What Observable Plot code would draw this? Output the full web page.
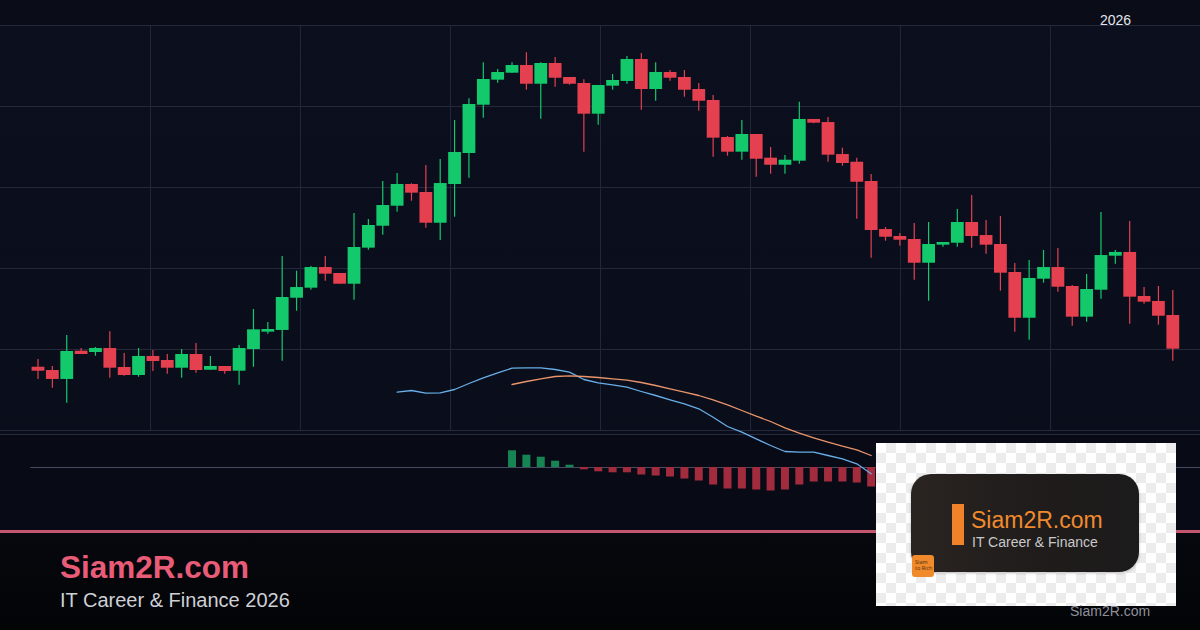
<!DOCTYPE html>
<html>
<head>
<meta charset="utf-8">
<script src="https://cdn.jsdelivr.net/npm/d3@7"></script>
<script src="https://cdn.jsdelivr.net/npm/@observablehq/plot@0.6"></script>
<style>
  html, body { margin: 0; padding: 0; background: #0b0f1d; }
  #wrap { position: relative; width: 1200px; height: 630px; overflow: hidden; font-family: "Liberation Sans", Arial, sans-serif; }
  .abs { position: absolute; }
  #hdr { left: 0; top: 0; width: 1200px; height: 25px; background: #0a0d17; }
  #pane { left: 0; top: 25px; width: 1200px; height: 410px; background: linear-gradient(180deg, #0b0f1e 0%, #0a0e1b 100%); }
  #sep { left: 0; top: 434px; width: 1200px; height: 1px; background: #262b3e; }
  #macdpane { left: 0; top: 435px; width: 1200px; height: 95px; background: #080b16; }
  #pink { left: 0; top: 530px; width: 1200px; height: 3px; background: #c4566f; }
  #foot { left: 0; top: 533px; width: 1200px; height: 97px; background: linear-gradient(180deg, #07080e 0%, #030406 100%); }
  #plotA { left: 0; top: 0; }
  #plotB { left: 0; top: 360px; }
  #yr { left: 1100px; top: 13px; font-size: 14px; line-height: 14px; color: #e4e6ee; }
  #t1 { left: 60px; top: 552px; font-size: 31.5px; line-height: 31.5px; font-weight: bold; color: #e85c78; }
  #t2 { left: 60px; top: 590px; font-size: 20px; line-height: 20px; color: #cfd0d6; }
  #t3 { left: 1070px; top: 604px; font-size: 14px; line-height: 14px; color: #8e909c; }
  #logo { left: 876px; top: 443px; width: 300px; height: 163px;
    background-color: #ffffff;
    background-image: linear-gradient(45deg, #ececec 25%, transparent 25%), linear-gradient(-45deg, #ececec 25%, transparent 25%), linear-gradient(45deg, transparent 75%, #ececec 75%), linear-gradient(-45deg, transparent 75%, #ececec 75%);
    background-size: 20px 20px; background-position: 0 0, 0 10px, 10px -10px, -10px 0; }
  #card { left: 35px; top: 31px; width: 228px; height: 98px; border-radius: 20px;
    background: linear-gradient(90deg, #2a2421 0%, #1f1c1b 55%, #1c1b1b 100%); box-shadow: 0 1px 3px rgba(0,0,0,0.25); }
  #bar { left: 41px; top: 30px; width: 12px; height: 41px; background: #f0822a; }
  #lt1 { left: 60px; top: 35px; font-family: "Liberation Sans", Arial, sans-serif; font-size: 23px; line-height: 23px; color: #f08a2e; white-space: nowrap; }
  #lt2 { left: 61px; top: 61.3px; font-family: "Liberation Sans", Arial, sans-serif; font-size: 14px; line-height: 14px; color: #c9c9c9; white-space: nowrap; }
  #badge { left: 1px; top: 81px; width: 22px; height: 22px; border-radius: 3px; background: #f08a2a; font-family: "Open Sans", sans-serif; font-size: 5.5px; line-height: 6px; color: #4a2a12; padding: 4px 0 0 3px; box-sizing: border-box; }
</style>
</head>
<body>
<div id="wrap">
  <div id="hdr" class="abs"></div>
  <div id="pane" class="abs"></div>
  <div id="macdpane" class="abs"></div>
  <div id="sep" class="abs"></div>
  <div id="pink" class="abs"></div>
  <div id="foot" class="abs"></div>
  <div id="plotA" class="abs"></div>
  <div id="plotB" class="abs"></div>
  <div id="yr" class="abs">2026</div>
  <div id="t1" class="abs">Siam2R.com</div>
  <div id="t2" class="abs">IT Career &amp; Finance 2026</div>
  <div id="logo" class="abs">
    <div id="card" class="abs">
      <div id="bar" class="abs"></div>
      <div id="lt1" class="abs">Siam2R.com</div>
      <div id="lt2" class="abs">IT Career &amp; Finance</div>
      <div id="badge" class="abs">Siam<br>to Rich</div>
    </div>
  </div>
  <div id="t3" class="abs">Siam2R.com</div>
</div>
<script>
// ---- Price data (OHLC), 80 sessions ----
const open = [97.81, 97.41, 96.30, 99.79, 99.63, 100.12, 97.78, 96.79, 99.14, 98.64,
  97.69, 99.38, 97.44, 97.90, 97.32, 100.00, 102.14, 102.35, 106.33, 107.57,
  110.12, 109.38, 108.06, 112.51, 115.22, 117.69, 120.37, 119.38, 115.59, 120.37,
  124.20, 130.16, 133.25, 134.11, 135.06, 132.75, 135.31, 133.58, 132.84, 129.05,
  132.51, 133.09, 135.80, 132.10, 134.20, 133.58, 132.10, 130.74, 126.17, 124.36,
  126.54, 123.62, 122.75, 123.25, 128.40, 128.02, 124.07, 123.12, 120.74, 114.81,
  113.95, 113.58, 110.65, 112.88, 113.12, 115.68, 114.07, 112.96, 109.51, 103.86,
  108.68, 110.12, 107.78, 103.99, 107.32, 111.52, 111.98, 106.54, 105.93, 104.20];
const close = [97.32, 96.30, 99.75, 99.38, 100.12, 97.69, 96.79, 99.14, 98.52, 97.69,
  99.38, 97.41, 97.90, 97.28, 100.12, 102.43, 102.47, 106.42, 107.65, 110.12,
  109.30, 108.06, 112.59, 115.31, 117.78, 120.37, 119.30, 115.59, 120.49, 124.32,
  130.25, 133.33, 134.20, 135.06, 132.75, 135.31, 133.49, 132.75, 129.05, 132.59,
  133.21, 135.80, 132.10, 134.20, 133.49, 132.01, 130.65, 126.09, 124.36, 126.54,
  123.49, 122.75, 123.37, 128.40, 127.94, 123.99, 122.96, 120.65, 114.69, 113.86,
  113.49, 110.65, 112.96, 113.21, 115.68, 113.95, 112.88, 109.42, 103.86, 108.77,
  110.12, 107.69, 103.99, 107.41, 111.60, 111.98, 106.46, 105.84, 104.11, 100.04];
const high = [98.77, 97.90, 101.73, 100.12, 100.25, 102.19, 99.51, 100.12, 99.88, 99.38,
  100.00, 100.74, 99.14, 97.90, 100.49, 104.94, 103.33, 111.48, 109.67, 110.25,
  111.48, 109.38, 116.79, 116.05, 120.74, 121.73, 120.46, 122.72, 123.46, 128.27,
  130.95, 135.40, 134.57, 135.40, 136.63, 135.40, 136.05, 133.58, 133.30, 132.59,
  133.95, 136.17, 136.54, 135.40, 134.44, 134.44, 132.84, 131.36, 126.30, 128.27,
  126.54, 124.94, 123.95, 130.53, 128.40, 128.64, 124.85, 123.62, 121.60, 115.06,
  114.32, 115.56, 115.68, 113.21, 117.28, 119.01, 115.93, 116.42, 110.62, 110.99,
  112.22, 112.47, 107.90, 109.26, 116.91, 112.22, 115.80, 107.65, 107.78, 107.28];
const low = [96.30, 95.22, 93.37, 99.38, 99.17, 96.46, 96.70, 96.58, 97.28, 96.95,
  96.46, 97.07, 97.44, 96.95, 95.59, 97.81, 101.89, 98.56, 104.73, 107.32,
  108.43, 108.06, 106.09, 112.26, 114.11, 116.95, 118.31, 114.98, 113.46, 116.33,
  121.15, 128.56, 132.88, 134.11, 132.01, 128.43, 132.38, 132.63, 124.36, 127.69,
  132.01, 132.75, 129.54, 130.65, 133.12, 131.15, 129.42, 123.74, 123.86, 123.37,
  121.27, 121.64, 121.64, 122.88, 127.86, 123.12, 122.63, 116.09, 111.27, 113.37,
  112.75, 108.56, 105.96, 112.63, 112.63, 112.51, 111.77, 107.20, 102.14, 101.15,
  108.19, 107.07, 102.88, 103.37, 106.21, 110.53, 103.12, 105.59, 103.00, 98.56];

// ---- MACD (visible part) ----
const macdStart = 25;
const macdLine = [7.53, 7.70, 7.43, 7.47, 7.80, 8.40, 8.97, 9.47, 9.93, 9.97,
  9.97, 9.80, 9.53, 8.80, 8.47, 8.27, 8.03, 7.60, 7.20, 6.77,
  6.37, 5.87, 5.03, 4.10, 3.53, 2.87, 2.20, 1.60, 1.53, 1.53,
  1.20, 0.87, 0.37, -0.63];
const signalStart = 33;
const signalLine = [8.30, 8.60, 8.87, 9.10, 9.17, 9.10, 9.00, 8.87, 8.73, 8.50,
  8.20, 7.87, 7.53, 7.20, 6.77, 6.27, 5.70, 5.13, 4.60, 3.97,
  3.43, 2.97, 2.53, 2.13, 1.77, 1.20];
const histogram = [1.67, 1.23, 1.03, 0.63, 0.23, -0.23, -0.43, -0.53, -0.53, -0.75,
  -0.85, -0.95, -1.15, -1.35, -1.75, -2.15, -2.15, -2.25, -2.35, -2.25,
  -1.75, -1.45, -1.45, -1.45, -1.55, -1.95];

// ---- grid ticks ----
const priceTicks = [90, 100, 110, 120, 130, 140];
const timeTicks = [7.83, 18.27, 28.72, 39.16, 49.60, 60.04, 70.49];

const UP = "#14c96b", DOWN = "#e5404f";
const HUP = "#168553", HDOWN = "#a22c3e";
const GRID = "#23283a";

const n = open.length;
const candles = open.map((o, i) => ({i, open: o, close: close[i], high: high[i], low: low[i]}));
const macdData = macdLine.map((v, k) => ({i: macdStart + k, v}));
const sigData = signalLine.map((v, k) => ({i: signalStart + k, v}));
const histData = histogram.map((v, k) => ({i: signalStart + k, v}));

const xScale = {domain: [0, n - 1], range: [37.5, 1172.3], axis: null};
const candleColor = d => d.close >= d.open ? UP : DOWN;

const plotA = Plot.plot({
  width: 1200, height: 435,
  marginLeft: 0, marginRight: 0, marginTop: 25, marginBottom: 5,
  x: xScale,
  y: {domain: [90, 140], axis: null},
  color: {type: "identity"},
  style: {background: "transparent", overflow: "visible"},
  marks: [
    Plot.ruleY(priceTicks, {stroke: GRID, strokeWidth: 1}),
    Plot.ruleX(timeTicks, {y1: 90, y2: 140, stroke: GRID, strokeWidth: 1}),
    Plot.ruleX(candles, {x: "i", y1: "low", y2: "high", stroke: candleColor, strokeWidth: 1.2}),
    Plot.ruleX(candles, {x: "i", y1: "open", y2: "close", stroke: candleColor, strokeWidth: 12.8})
  ]
});
document.getElementById("plotA").appendChild(plotA);

const plotB = Plot.plot({
  width: 1200, height: 171,
  marginLeft: 0, marginRight: 0, marginTop: 0, marginBottom: 0,
  x: xScale,
  y: {domain: [-6.4, 10.7], axis: null},
  color: {type: "identity"},
  style: {background: "transparent", overflow: "visible"},
  marks: [
    Plot.ruleY([0], {x1: -0.5, x2: n + 1, stroke: "#454c62", strokeWidth: 1}),
    Plot.ruleX(histData, {x: "i", y1: 0, y2: "v", stroke: d => d.v >= 0 ? HUP : HDOWN, strokeWidth: 8}),
    Plot.line(macdData, {x: "i", y: "v", stroke: "#68aee8", strokeWidth: 1.3}),
    Plot.line(sigData, {x: "i", y: "v", stroke: "#eb946c", strokeWidth: 1.3})
  ]
});
document.getElementById("plotB").appendChild(plotB);
</script>
</body>
</html>
